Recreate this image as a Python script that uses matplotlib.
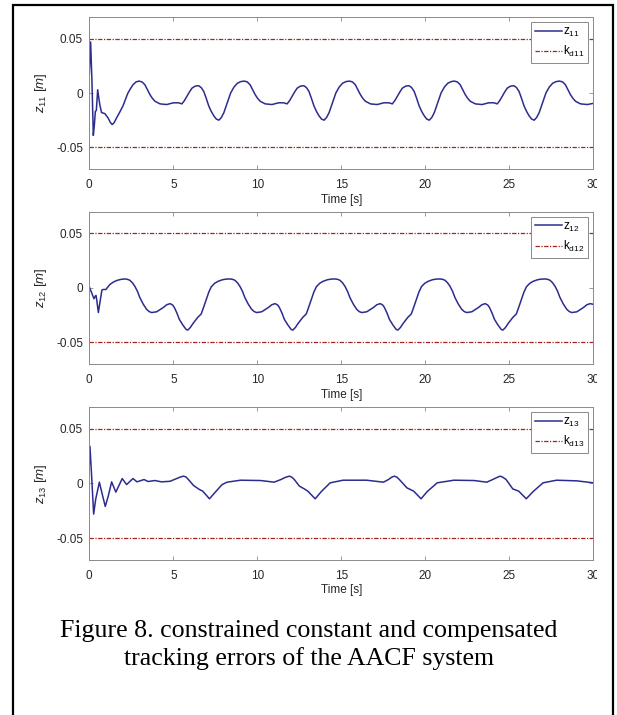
import matplotlib
matplotlib.use("Agg")
import matplotlib.pyplot as plt
from matplotlib.patches import Rectangle

# tracking error z11 (time [s], value [m])
t11 = [0.00, 0.08, 0.16, 0.24, 0.30, 0.36, 0.42, 0.50, 0.57, 0.63, 0.73, 0.93,
       1.12, 1.25, 1.36, 1.47, 1.62, 1.80, 2.00, 2.15, 2.30, 2.45, 2.60, 2.78,
       2.96, 3.14, 3.31, 3.46, 3.61, 3.76, 3.91, 4.21, 4.61, 5.01, 5.31, 5.51, 5.66, 5.81,
       5.96, 6.11, 6.31, 6.51, 6.66, 6.81, 6.96, 7.11, 7.26, 7.41, 7.56, 7.71, 7.86, 8.01,
       8.21, 8.41, 8.61, 8.81, 9.01,
       9.22, 9.40, 9.57, 9.72, 9.87, 10.02, 10.17, 10.47, 10.87, 11.27, 11.57, 11.77, 11.92,
       12.07, 12.22, 12.37, 12.57, 12.77, 12.92, 13.07, 13.22, 13.37, 13.52, 13.67, 13.82,
       13.97, 14.12, 14.27, 14.47, 14.67, 14.87, 15.07, 15.27,
       15.48, 15.66, 15.83, 15.98, 16.13, 16.28, 16.43, 16.73, 17.13, 17.53, 17.83, 18.03,
       18.18, 18.33, 18.48, 18.63, 18.83, 19.03, 19.18, 19.33, 19.48, 19.63, 19.78, 19.93,
       20.08, 20.23, 20.38, 20.53, 20.73, 20.93, 21.13, 21.33, 21.53,
       21.72, 21.90, 22.07, 22.22, 22.37, 22.52, 22.67, 22.97, 23.37, 23.77, 24.07, 24.27,
       24.42, 24.57, 24.72, 24.87, 25.07, 25.27, 25.42, 25.57, 25.72, 25.87, 26.02, 26.17,
       26.32, 26.47, 26.62, 26.77, 26.97, 27.17, 27.37, 27.57, 27.77,
       27.98, 28.16, 28.33, 28.48, 28.63, 28.78, 28.93, 29.23, 29.63, 30.00]
z11 = [0.017, 0.047, 0.010, -0.039, -0.030, -0.017, -0.016, 0.003, -0.005, -0.011, -0.018, -0.019,
       -0.023, -0.027, -0.029, -0.0275, -0.023, -0.018, -0.012, -0.006, 0.000, 0.004, 0.0076, 0.0102,
       0.011, 0.0102, 0.0076, 0.003, -0.0015, -0.005, -0.0076, -0.010, -0.0106, -0.009, -0.009,
       -0.010, -0.007, -0.003, 0.001, 0.0045, 0.0064, 0.0067, 0.0050, 0.0015, -0.005, -0.012,
       -0.017, -0.021, -0.024, -0.025, -0.0225, -0.018, -0.009, 0.000, 0.0055, 0.009, 0.0105,
       0.011, 0.0102, 0.0076, 0.003, -0.0015, -0.005, -0.0076, -0.010, -0.0106, -0.009, -0.009,
       -0.010, -0.007, -0.003, 0.001, 0.0045, 0.0064, 0.0067, 0.0050, 0.0015, -0.005, -0.012,
       -0.017, -0.021, -0.024, -0.025, -0.0225, -0.018, -0.009, 0.000, 0.0055, 0.009, 0.0105,
       0.011, 0.0102, 0.0076, 0.003, -0.0015, -0.005, -0.0076, -0.010, -0.0106, -0.009, -0.009,
       -0.010, -0.007, -0.003, 0.001, 0.0045, 0.0064, 0.0067, 0.0050, 0.0015, -0.005, -0.012,
       -0.017, -0.021, -0.024, -0.025, -0.0225, -0.018, -0.009, 0.000, 0.0055, 0.009, 0.0105,
       0.011, 0.0102, 0.0076, 0.003, -0.0015, -0.005, -0.0076, -0.010, -0.0106, -0.009, -0.009,
       -0.010, -0.007, -0.003, 0.001, 0.0045, 0.0064, 0.0067, 0.0050, 0.0015, -0.005, -0.012,
       -0.017, -0.021, -0.024, -0.025, -0.0225, -0.018, -0.009, 0.000, 0.0055, 0.009, 0.0105,
       0.011, 0.0102, 0.0076, 0.003, -0.0015, -0.005, -0.0076, -0.010, -0.0106, -0.0095]

# tracking error z12
t12 = [0.00, 0.14, 0.28, 0.34, 0.40, 0.44, 0.54, 0.63, 0.75, 0.83, 0.99, 1.22, 1.42, 1.62, 1.85,
       2.11, 2.26, 2.41, 2.56, 2.71, 2.86, 3.01, 3.21, 3.41, 3.56, 3.71, 4.01, 4.21, 4.41, 4.61,
       4.81, 4.96, 5.06, 5.21, 5.36, 5.56, 5.76, 5.86, 6.01, 6.16, 6.46, 6.66, 6.81, 6.96, 7.11,
       7.26, 7.46, 7.66, 7.91, 8.11,
       8.36, 8.51, 8.66, 8.81, 8.96, 9.11, 9.26, 9.46, 9.66, 9.81, 9.96, 10.26, 10.46, 10.66,
       10.86, 11.06, 11.21, 11.31, 11.46, 11.61, 11.81, 12.01, 12.11, 12.26, 12.41, 12.71, 12.91,
       13.06, 13.21, 13.36, 13.51, 13.71, 13.91, 14.16, 14.36,
       14.61, 14.76, 14.91, 15.06, 15.21, 15.36, 15.51, 15.71, 15.91, 16.06, 16.21, 16.51, 16.71,
       16.91, 17.11, 17.31, 17.46, 17.56, 17.71, 17.86, 18.06, 18.26, 18.36, 18.51, 18.66, 18.96,
       19.16, 19.31, 19.46, 19.61, 19.76, 19.96, 20.16, 20.41, 20.61,
       20.86, 21.01, 21.16, 21.31, 21.46, 21.61, 21.76, 21.96, 22.16, 22.31, 22.46, 22.76, 22.96,
       23.16, 23.36, 23.56, 23.71, 23.81, 23.96, 24.11, 24.31, 24.51, 24.61, 24.76, 24.91, 25.21,
       25.41, 25.56, 25.71, 25.86, 26.01, 26.21, 26.41, 26.66, 26.86,
       27.11, 27.26, 27.41, 27.56, 27.71, 27.86, 28.01, 28.21, 28.41, 28.56, 28.71, 29.01, 29.21,
       29.41, 29.61, 29.81, 30.00]
z12 = [0.001, -0.0045, -0.010, -0.008, -0.007, -0.0106, -0.0227, -0.0136, -0.002, -0.0015, -0.0015,
       0.003, 0.0052, 0.0067, 0.0077,
       0.0082, 0.0079, 0.007, 0.0048, 0.0015, -0.003, -0.009, -0.0150, -0.0197, -0.0218, -0.0227,
       -0.022, -0.020, -0.018, -0.0155, -0.0145, -0.0158, -0.018, -0.023, -0.029, -0.034, -0.0382,
       -0.0388, -0.0365, -0.033, -0.027, -0.024, -0.0175, -0.0106, -0.004, 0.001, 0.0042, 0.006,
       0.0074, 0.0080,
       0.0082, 0.0079, 0.007, 0.0048, 0.0015, -0.003, -0.009, -0.0150, -0.0197, -0.0218, -0.0227,
       -0.022, -0.020, -0.018, -0.0155, -0.0145, -0.0158, -0.018, -0.023, -0.029, -0.034, -0.0382,
       -0.0388, -0.0365, -0.033, -0.027, -0.024, -0.0175, -0.0106, -0.004, 0.001, 0.0042, 0.006,
       0.0074, 0.0080,
       0.0082, 0.0079, 0.007, 0.0048, 0.0015, -0.003, -0.009, -0.0150, -0.0197, -0.0218, -0.0227,
       -0.022, -0.020, -0.018, -0.0155, -0.0145, -0.0158, -0.018, -0.023, -0.029, -0.034, -0.0382,
       -0.0388, -0.0365, -0.033, -0.027, -0.024, -0.0175, -0.0106, -0.004, 0.001, 0.0042, 0.006,
       0.0074, 0.0080,
       0.0082, 0.0079, 0.007, 0.0048, 0.0015, -0.003, -0.009, -0.0150, -0.0197, -0.0218, -0.0227,
       -0.022, -0.020, -0.018, -0.0155, -0.0145, -0.0158, -0.018, -0.023, -0.029, -0.034, -0.0382,
       -0.0388, -0.0365, -0.033, -0.027, -0.024, -0.0175, -0.0106, -0.004, 0.001, 0.0042, 0.006,
       0.0074, 0.0080,
       0.0082, 0.0079, 0.007, 0.0048, 0.0015, -0.003, -0.009, -0.0150, -0.0197, -0.0218, -0.0227,
       -0.022, -0.020, -0.018, -0.0155, -0.0145, -0.0152]

# tracking error z13
t13 = [0.00, 0.04, 0.14, 0.26, 0.38, 0.60, 0.75, 0.95, 1.13, 1.33, 1.58, 1.96, 2.22, 2.60,
       2.84, 3.26, 3.50, 3.90, 4.30, 4.80, 5.20, 5.40, 5.60, 5.75, 5.90, 6.20, 6.55, 6.75, 7.15,
       7.50, 7.90, 8.20, 9.00, 10.20, 11.00, 11.40, 11.70, 11.90, 12.05, 12.20, 12.50, 12.80,
       13.00, 13.44, 13.80, 14.33, 15.10, 16.50, 17.50, 17.80, 18.00, 18.15, 18.30, 18.45, 18.90,
       19.30, 19.74, 20.10, 20.70, 21.70, 22.90, 23.65, 24.00, 24.30, 24.45, 24.60, 24.80, 25.20,
       25.55, 26.00, 26.40, 27.00, 27.80, 29.00, 30.00]
z13 = [0.017, 0.034, 0.0067, -0.028, -0.0145, 0.0012, -0.0085, -0.021, -0.0115, 0.0015, -0.0079,
       0.0045, -0.001, 0.0045, 0.0015, 0.0036, 0.0018, 0.0027, 0.0015, 0.002, 0.0045, 0.0058,
       0.0067, 0.0060, 0.0036, -0.0018, -0.0055, -0.007, -0.014, -0.0079, -0.001, 0.0012, 0.003,
       0.0027, 0.0012, 0.0036, 0.0058, 0.0067, 0.0058, 0.0036, -0.0024, -0.005, -0.007, -0.014,
       -0.0075, 0.0006, 0.003, 0.003, 0.0012, 0.0036, 0.0058, 0.0067, 0.0058, 0.0036, -0.004,
       -0.007, -0.014, -0.0075, 0.0006, 0.003, 0.0027, 0.0012, 0.0036, 0.0058, 0.0067, 0.0058,
       0.0036, -0.005, -0.007, -0.014, -0.0075, 0.0006, 0.003, 0.0024, 0.0006]

# constant constraint bound k_d
k_bound = 0.05

subscripts = ["11", "12", "13"]
times = [t11, t12, t13]
errors = [z11, z12, z13]

x_ticks = [0, 5, 10, 15, 20, 25, 30]
y_ticks = [-0.05, 0, 0.05]
y_tick_labels = ["-0.05", "0", "0.05"]

caption_lines = ["Figure 8. constrained constant and compensated",
                 "tracking errors of the AACF system"]

plt.rcParams["font.family"] = ["Liberation Sans", "DejaVu Sans"]
plt.rcParams["mathtext.fontset"] = "custom"
plt.rcParams["mathtext.rm"] = "Liberation Sans"
plt.rcParams["mathtext.it"] = "Liberation Sans:italic"

fig = plt.figure(figsize=(6.17, 7.15), dpi=100)
fig.patch.set_facecolor("white")

# panel boxes: left, bottom, width, height
panel_boxes = [
    [0.1447, 0.7636, 0.8172, 0.2126],
    [0.1447, 0.4909, 0.8172, 0.2130],
    [0.1447, 0.2168, 0.8172, 0.2140],
]

line_blue = "#2c2c8e"
bound_red = "#a82222"
axis_gray = "#8a8a8a"
text_dark = "#262626"
dash_dot = (0, (3.5, 1.2, 1.0, 1.2))

for box, sub, t, z in zip(panel_boxes, subscripts, times, errors):
    ax = fig.add_axes(box)
    ax.plot(t, z, color=line_blue, linewidth=1.1, label=r"$\mathrm{z}_{%s}$" % sub)
    ax.plot([0, 30], [k_bound, k_bound], color=bound_red, linewidth=0.9,
            linestyle=dash_dot, label=r"$\mathrm{k}_{\mathrm{d}%s}$" % sub)
    ax.plot([0, 30], [-k_bound, -k_bound], color=bound_red, linewidth=0.9,
            linestyle=dash_dot)
    ax.set_xlim(0, 30)
    ax.set_ylim(-0.07, 0.07)
    ax.set_xticks(x_ticks)
    ax.set_yticks(y_ticks)
    ax.set_yticklabels(y_tick_labels)
    ax.tick_params(direction="in", top=True, right=True, length=3, width=0.6,
                   color=axis_gray, labelsize=8.5, labelcolor=text_dark)
    ax.tick_params(axis="x", pad=7.5)
    ax.tick_params(axis="y", pad=4.5)
    for sp in ax.spines.values():
        sp.set_color(axis_gray)
        sp.set_linewidth(0.7)
    ax.set_xlabel("Time [s]", fontsize=8.5, color=text_dark, labelpad=1.5)
    ax.set_ylabel(r"$z_{%s}\ [m]$" % sub, fontsize=9.5, color=text_dark, labelpad=5)
    leg = ax.legend(loc="upper right", fontsize=8.5, handlelength=2.3, handletextpad=0.1,
                    borderaxespad=0.45, borderpad=0.3, labelspacing=0.45,
                    fancybox=False, framealpha=1)
    leg.get_frame().set_edgecolor(axis_gray)
    leg.get_frame().set_linewidth(0.7)

# the right edge of the graphic is cropped just past the last tick label
fig.patches.append(Rectangle((597 / 617, 0), 16 / 617, 1, transform=fig.transFigure,
                             facecolor="white", edgecolor="none", zorder=5))

# outer frame
fig.patches.append(Rectangle((12.5 / 617, -0.01), 600.5 / 617, 1.01 - 4.5 / 715,
                             transform=fig.transFigure, fill=False,
                             edgecolor="black", linewidth=1.6, zorder=6))

for line, base_px in zip(caption_lines, [637, 665.5]):
    fig.text(0.5, 1 - base_px / 715, line, ha="center", va="baseline", fontsize=18.6,
             family="Liberation Serif")

fig.savefig("out.png", dpi=100)
